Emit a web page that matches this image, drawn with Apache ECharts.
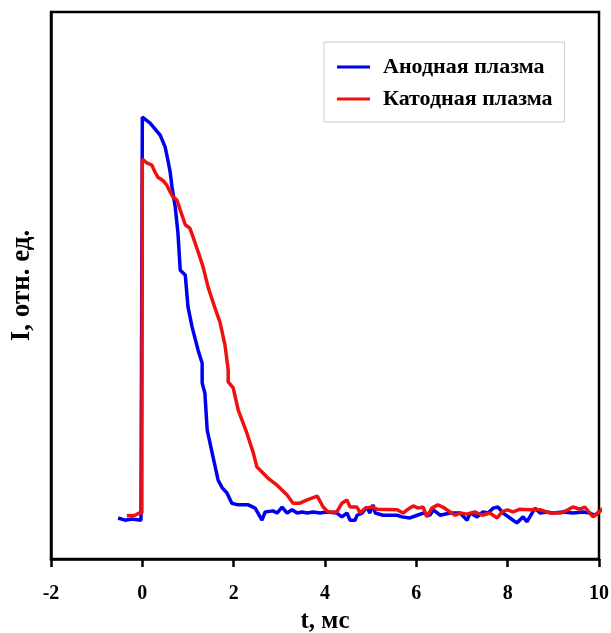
<!DOCTYPE html>
<html>
<head>
<meta charset="utf-8">
<script src="https://cdn.jsdelivr.net/npm/echarts@6/dist/echarts.min.js"></script>
<style>
html,body{margin:0;padding:0;background:#fff;}
#chart{width:611px;height:633px;}
</style>
</head>
<body>
<div id="chart"></div>
<script>
// Anode plasma: time (ms), relative intensity
const anodeT = [-0.53,-0.38,-0.23,-0.03,0.00,0.17,0.39,0.50,0.56,0.61,0.65,0.72,0.78,0.83,0.94,1.00,1.09,1.22,1.31,1.31,1.37,1.42,1.55,1.66,1.75,1.85,1.96,2.10,2.32,2.47,2.58,2.62,2.69,2.86,2.95,3.06,3.17,3.28,3.39,3.50,3.61,3.74,3.89,4.04,4.26,4.37,4.48,4.55,4.66,4.70,4.81,4.92,4.98,5.05,5.10,5.27,5.58,5.69,5.86,6.02,6.15,6.30,6.37,6.52,6.74,6.96,7.11,7.18,7.33,7.46,7.57,7.68,7.79,7.90,8.05,8.20,8.34,8.42,8.60,8.71,8.86,8.99,9.21,9.43,9.65,9.80,9.91,10.00];
const anodeI = [7.5,7.1,7.3,7.1,80.8,79.7,77.5,75.3,72.9,70.7,68.0,64.4,59.6,52.8,51.9,46.1,42.4,38.2,35.8,32.2,30.3,23.6,18.6,14.4,13.0,12.1,10.2,9.9,9.9,9.3,7.7,7.1,8.6,8.8,8.4,9.5,8.4,9.0,8.4,8.6,8.4,8.6,8.4,8.6,8.4,7.7,8.4,7.1,7.1,8.0,8.4,9.5,8.4,9.9,8.4,8.0,8.0,7.7,7.5,8.0,8.4,8.0,9.0,8.0,8.4,8.4,7.1,8.4,7.7,8.6,8.4,9.3,9.5,8.4,7.5,6.6,7.7,6.8,9.3,8.4,8.6,8.4,8.6,8.4,8.6,8.4,8.0,8.6];

// Cathode plasma: time (ms), relative intensity
const cathodeT = [-0.34,-0.16,-0.07,-0.01,0.00,0.10,0.21,0.28,0.34,0.45,0.54,0.61,0.67,0.76,0.83,0.94,1.04,1.11,1.26,1.33,1.44,1.59,1.70,1.81,1.88,1.88,1.99,2.10,2.29,2.43,2.51,2.62,2.75,2.95,3.17,3.30,3.45,3.61,3.83,3.96,4.07,4.26,4.37,4.48,4.55,4.70,4.77,4.88,5.03,5.14,5.58,5.71,5.80,5.93,6.04,6.15,6.23,6.34,6.47,6.58,6.74,6.85,6.96,7.11,7.28,7.44,7.61,7.77,7.88,7.99,8.12,8.27,8.49,8.71,8.93,9.15,9.32,9.43,9.58,9.69,9.80,9.87,9.98,10.09];
const cathodeI = [7.9,8.0,8.4,8.4,73.1,72.4,72.0,70.7,69.8,69.2,68.3,67.1,66.2,65.6,63.8,61.1,60.5,58.9,55.2,53.4,49.7,45.9,43.3,39.1,34.6,32.4,31.3,27.2,23.0,19.4,16.8,15.9,14.8,13.5,11.7,10.2,10.2,10.8,11.5,9.5,8.6,8.6,10.2,10.8,9.5,9.5,8.4,9.3,9.5,9.1,9.0,8.4,9.0,9.7,9.3,9.5,7.7,9.3,9.9,9.5,8.6,8.0,8.4,8.2,8.6,8.0,8.4,7.5,8.6,9.0,8.6,9.1,9.0,9.0,8.4,8.4,9.0,9.5,9.1,9.5,8.4,7.7,8.4,9.3];

const seriesNames = ['Анодная плазма', 'Катодная плазма'];
const xTicks = [-2, 0, 2, 4, 6, 8, 10];

const zip = (a, b) => a.map((v, i) => [v, b[i]]);
const serif = '"Liberation Serif", "Times New Roman", serif';

const chart = echarts.init(document.getElementById('chart'));
chart.setOption({
  animation: false,
  backgroundColor: '#fff',
  grid: {
    left: 51, right: 12, top: 12, bottom: 74,
    containLabel: false, outerBoundsMode: 'none',
    show: true, borderColor: '#000', borderWidth: 2.5
  },
  legend: {
    left: 324, top: 42, orient: 'vertical',
    data: seriesNames,
    icon: 'rect', itemWidth: 33, itemHeight: 3, itemGap: 10,
    padding: [14, 12, 12, 13],
    borderColor: '#cccccc', borderWidth: 1,
    textStyle: { fontFamily: serif, fontWeight: 'bold', fontSize: 22, color: '#000', padding: [0, 0, 0, 8] }
  },
  xAxis: {
    type: 'value', min: -2, max: 10, interval: 2,
    name: 't, мс', nameLocation: 'middle', nameGap: 50,
    nameTextStyle: { fontFamily: serif, fontWeight: 'bold', fontSize: 25, color: '#000' },
    axisLine: { show: true, onZero: false, lineStyle: { color: '#000', width: 2.5 } },
    axisTick: { show: true, inside: false, length: 8, lineStyle: { color: '#000', width: 2.5 } },
    axisLabel: { fontFamily: serif, fontWeight: 'bold', fontSize: 20, color: '#000', margin: 25,
      formatter: v => xTicks.includes(v) ? String(v) : '' },
    splitLine: { show: false }
  },
  yAxis: {
    type: 'value', min: 0, max: 100,
    name: 'I, отн. ед.', nameLocation: 'middle', nameGap: 15, nameRotate: 90,
    nameTextStyle: { fontFamily: serif, fontWeight: 'bold', fontSize: 27, color: '#000' },
    axisLine: { show: true, onZero: false, lineStyle: { color: '#000', width: 2.5 } },
    axisTick: { show: false },
    axisLabel: { show: false },
    splitLine: { show: false }
  },
  series: [
    {
      name: seriesNames[0], type: 'line', data: zip(anodeT, anodeI),
      showSymbol: false, symbol: 'none',
      lineStyle: { color: '#0000ee', width: 3.5 }, itemStyle: { color: '#0000ee' }
    },
    {
      name: seriesNames[1], type: 'line', data: zip(cathodeT, cathodeI),
      showSymbol: false, symbol: 'none', clip: false,
      lineStyle: { color: '#ee1111', width: 3.5 }, itemStyle: { color: '#ee1111' }
    }
  ]
});
</script>
</body>
</html>
